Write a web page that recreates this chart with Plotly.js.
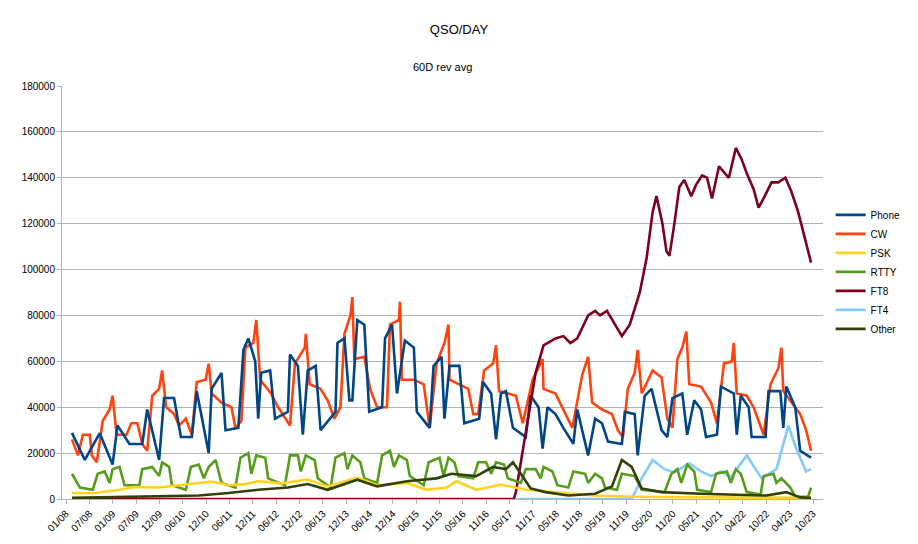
<!DOCTYPE html>
<html>
<head>
<meta charset="utf-8">
<script src="https://cdn.plot.ly/plotly-3.0.1.min.js"></script>
<style>html,body{margin:0;padding:0;background:#fff;}</style>
</head>
<body>
<div id="chart" style="width:918px;height:544px;"></div>
<script>
// x = day index since 01/2008, y = QSOs per day in thousands (60 day rev avg)
var tickLabels = ['01/08','07/08','01/09','07/09','12/09','06/10','12/10','06/11','12/11','06/12','12/12',
    '06/13','12/13','06/14','12/14','06/15','11/15','05/16','11/16','05/17','11/17','05/18','11/18',
    '05/19','11/19','05/20','11/20','05/21','10/21','04/22','10/22','04/23','10/23'];

var phoneDays = [46,145,260,359,397,489,588,626,718,756,833,886,970,1008,1100,1123,1199,1230,1329,1368,1406,1459,1482,1505,1574,1612,1711,1727,1788,1826,1864,1925,1963,2078,2093,2147,2185,2208,2246,2300,2338,2437,2460,2514,2552,2613,2682,2705,2804,2834,2896,2918,2957,3033,3071,3186,3216,3278,3316,3354,3392,3446,3545,3583,3644,3675,3713,3774,3835,3912,3942,4026,4080,4133,4179,4286,4309,4385,4408,4462,4515,4592,4637,4676,4752,4790,4844,4897,4935,5019,5050,5149,5172,5203,5264,5287,5394,5417,5508,5531,5554,5623,5661,5745];
var phoneVals = [28.8,17,28.7,15,32,24,24,39,17,44,44,27,27,47,20,48,55,30,31,65,70,60,35,55,56,35,38,63,58,28,56,58,30,38,68,70,43,43,78,76,38,40,70,76,46,69,66,38,31,58,62,35,58,58,33,35,51,46,26,46,47,31,27,45,40,22,40,37,31,24,39,19,35,33,25,24,38,37,19,45,48,30,27,44,46,28,43,39,27,28,49,46,28,45,40,27,27,47,47,31,49,40,21,18];

var cwDays = [46,92,130,183,199,237,283,336,359,390,466,504,550,588,626,665,718,741,772,833,871,924,970,1008,1077,1100,1123,1199,1276,1306,1352,1383,1444,1467,1497,1581,1635,1727,1765,1841,1849,1879,1963,2017,2070,2116,2147,2193,2208,2223,2300,2345,2399,2475,2498,2567,2575,2590,2682,2758,2804,2857,2918,2949,2957,3033,3102,3140,3178,3224,3293,3316,3339,3407,3469,3522,3598,3675,3682,3774,3828,3904,3980,4026,4057,4133,4210,4255,4294,4332,4385,4408,4439,4523,4592,4637,4676,4714,4752,4783,4806,4897,4974,5019,5073,5134,5149,5172,5249,5302,5379,5432,5493,5516,5531,5608,5661,5707,5745];
var cwVals = [26,19,28,28,19,16,34,39,45,28,28,33,33,24,21,45,48,56,40,37,32,35,28,51,52,59,46,42,40,31,34,66,68,78,52,46,40,32,59,66,72,50,48,43,35,40,72,80,88,61,62,48,40,40,76,78,86,52,52,50,31,59,68,76,52,50,48,37,37,56,59,67,47,46,45,33,52,61,48,46,40,31,54,62,42,39,37,30,27,48,55,65,46,56,53,35,31,61,66,73,50,49,42,33,59,60,68,46,45,40,28,50,57,66,47,41,37,30,21];

var psKDays = [46,206,413,527,718,947,1123,1253,1383,1482,1658,1864,2017,2246,2399,2628,2781,2934,3010,3163,3354,3545,3774,4080,4385,4844,5745];
var pskVals = [2.6,2.5,4,5.2,5,6.3,7.6,6,6.5,7.8,6.8,8.5,5.5,9.3,6,7,4,5,7.7,4,6.3,4,3,1.5,1,0.7,0.5];

var rttyDays = [46,107,206,244,298,336,359,413,451,565,588,665,718,741,795,817,924,963,1024,1062,1100,1154,1199,1306,1345,1406,1429,1467,1536,1559,1688,1727,1788,1811,1849,1917,1941,2040,2078,2147,2170,2208,2269,2300,2399,2437,2498,2529,2567,2628,2651,2758,2796,2880,2911,2949,2995,3025,3140,3178,3239,3278,3316,3377,3407,3507,3545,3621,3660,3682,3751,3789,3873,3912,4003,4026,4080,4133,4156,4248,4286,4385,4439,4615,4668,4714,4744,4790,4844,4867,4974,5012,5096,5126,5165,5203,5249,5356,5379,5455,5478,5516,5585,5623,5722,5745];
var rttyVals = [11,5,4,11,12,7,13,14,6,6,13,14,10,16,14,6,4,14,15,9,14,17,7,5,18,20,11,19,18,9,6,19,19,12,19,17,9,5,18,20,13,19,16,9,7,19,21,14,19,17,10,6,16,18,10,18,16,10,9,16,16,11,16,15,9,7,13,13,9,14,12,6,5,12,11,7,11,9,5,4,11,10,4,3,11,13,7,15,12,4,3,11,12,7,13,11,3,2,10,11,7,9,5,1,1,5];

var ft8Days = [46,3453,3469,3545,3621,3682,3774,3835,3889,3942,4026,4080,4118,4171,4233,4286,4347,4424,4477,4523,4553,4599,4630,4653,4691,4729,4767,4821,4859,4905,4943,4981,5035,5111,5165,5210,5249,5302,5340,5379,5440,5493,5547,5593,5646,5700,5745];
var ft8Vals = [0,0,3,30,55,67,70,71,68,70,80,82,80,82,76,71,76,90,105,125,132,120,108,106,120,136,139,132,137,141,140,131,145,140,153,148,142,135,127,131,138,138,140,134,125,113,103];

var ft4Days = [3469,4362,4439,4523,4615,4691,4806,4897,4974,5050,5126,5249,5363,5478,5570,5630,5707,5745];
var ft4Vals = [0,0,9,17,13,11.6,15.6,12,10,12,9.5,19,9,13,32,22,12,13];

var otherDays = [46,718,1024,1253,1482,1711,1864,2017,2246,2399,2628,2857,2972,3163,3293,3392,3446,3507,3583,3698,3873,4080,4210,4286,4362,4439,4592,4897,5401,5554,5661,5745];
var otherVals = [0.5,1,1.5,2.6,4,5,6.5,4,8.4,5.5,7.7,9,11,10,14,13,16,11,4.6,3,1.5,2.3,5.5,17,14,4.6,3,2.3,1.5,3,0.7,0.5];

var series = [
    {name: 'Phone', x: phoneDays, y: phoneVals, color: '#004586'},
    {name: 'CW', x: cwDays, y: cwVals, color: '#ff420e'},
    {name: 'PSK', x: psKDays, y: pskVals, color: '#ffd320'},
    {name: 'RTTY', x: rttyDays, y: rttyVals, color: '#579d1c'},
    {name: 'FT8', x: ft8Days, y: ft8Vals, color: '#7e0021'},
    {name: 'FT4', x: ft4Days, y: ft4Vals, color: '#83caff'},
    {name: 'Other', x: otherDays, y: otherVals, color: '#314004'}
];

// draw order: Other on top of the low lines like the original
var drawOrder = [1, 0, 4, 5, 3, 2, 6];
var traces = drawOrder.map(function(i) {
    var s = series[i];
    return {
        x: s.x,
        y: s.y.map(function(v) { return v * 1000; }),
        mode: 'lines',
        name: s.name,
        line: {color: s.color, width: 2.6},
        legendrank: i + 1
    };
});

var tickDays = tickLabels.map(function(_, i) { return i * 180; });

var layout = {
    width: 918, height: 544,
    font: {family: 'Liberation Sans, Arial, sans-serif', size: 10, color: '#000'},
    title: {text: 'QSO/DAY', font: {size: 13}, x: 0.5, xanchor: 'center', y: 0.955},
    margin: {l: 62, r: 88, t: 86, b: 45},
    paper_bgcolor: '#fff', plot_bgcolor: '#fff',
    showlegend: true,
    legend: {x: 1.01, xanchor: 'left', y: 0.55, yanchor: 'middle', font: {size: 10},
             tracegroupgap: 0, itemwidth: 30, bgcolor: 'rgba(0,0,0,0)'},
    xaxis: {
        range: [-31, 5837], tickvals: tickDays, ticktext: tickLabels, tickangle: -45,
        showgrid: false, zeroline: false, showline: true, linecolor: '#b3b3b3',
        ticks: 'outside', ticklen: 4, tickcolor: '#b3b3b3', tickfont: {size: 10}
    },
    yaxis: {
        range: [0, 180000], dtick: 20000, tickformat: 'd',
        showgrid: true, gridcolor: '#b3b3b3', zeroline: false, showline: true, linecolor: '#b3b3b3',
        ticks: 'outside', ticklen: 4, tickcolor: '#b3b3b3', tickfont: {size: 10}
    },
    annotations: [{text: '60D rev avg', xref: 'paper', yref: 'paper', x: 0.5, y: 1.0, yshift: 27,
                   showarrow: false, font: {size: 11}}]
};

Plotly.newPlot('chart', traces, layout, {staticPlot: true});
</script>
</body>
</html>
